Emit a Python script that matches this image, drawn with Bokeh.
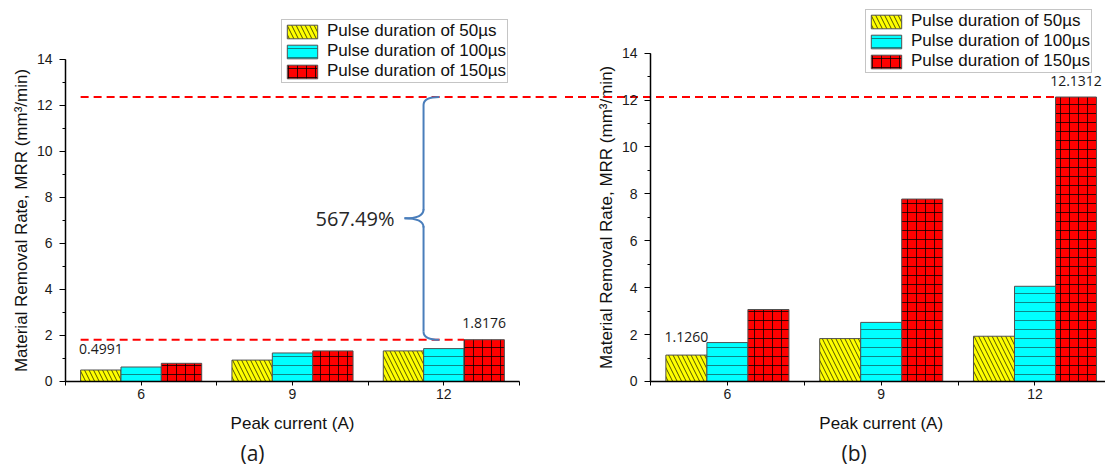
import math
from bokeh.plotting import figure
from bokeh.layouts import row
from bokeh.models import (ColumnDataSource, FixedTicker, SingleIntervalTicker,
                          LinearAxis, Range1d)
from bokeh.core.properties import value
from bokeh.embed import file_html
from bokeh.resources import INLINE

# ---------------- data ----------------
currents = ["6", "9", "12"]
series_names = ["Pulse duration of 50µs", "Pulse duration of 100µs", "Pulse duration of 150µs"]

mrr_a_50 = [0.4991, 0.93, 1.33]
mrr_a_100 = [0.63, 1.24, 1.43]
mrr_a_150 = [0.79, 1.33, 1.8176]

mrr_b_50 = [1.1260, 1.83, 1.93]
mrr_b_100 = [1.66, 2.52, 4.06]
mrr_b_150 = [3.07, 7.78, 12.1312]

percent_label = "567.49%"
top_line_a = 12.37   # level of the (b) maximum carried across into panel (a)

# ---------------- style ----------------
FILLS = ["#FFFF00", "#00FFFF", "#FF0000"]
HATCH = ["\\", "-", "+"]
HATCH_COL = ["#000000", "#124848", "#000000"]
HATCH_SCALE = [9, 9, 9]
HATCH_W = [0.8, 1.0, 0.9]
HATCH_A = [0.85, 0.65, 0.85]
BAR_W = 0.2667
OFFS = [-BAR_W, 0.0, BAR_W]
AX_FONT = "Liberation Sans"
NOTE_FONT = "Open Sans"
H = 466
Y_TITLE = "Material Removal Rate, MRR (mm³/min)"
X_TITLE = "Peak current (A)"


def make_panel(values, width, x_range, y_range, legend_loc, tag, tag_dx):
    p = figure(width=width, height=H, x_range=Range1d(*x_range), y_range=Range1d(*y_range),
               output_backend="svg", toolbar_location=None, x_axis_type=None, y_axis_type=None,
               min_border_left=0, min_border_right=0, min_border_top=0, min_border_bottom=0)
    p.grid.visible = False
    p.outline_line_color = None
    p.background_fill_color = "white"
    p.border_fill_color = "white"
    xs = [i + 1 for i in range(len(currents))]
    for k, (vals, name) in enumerate(zip(values, series_names)):
        src = ColumnDataSource(dict(x=[xv + OFFS[k] for xv in xs], top=vals))
        p.vbar(x="x", top="top", width=BAR_W, source=src,
               fill_color=FILLS[k], line_color="#505050", line_width=1,
               hatch_pattern=HATCH[k], hatch_color=HATCH_COL[k],
               hatch_scale=HATCH_SCALE[k], hatch_weight=HATCH_W[k],
               hatch_alpha=HATCH_A[k], legend_label=name)

    xa = LinearAxis(fixed_location=0)
    xa.ticker = FixedTicker(ticks=xs, minor_ticks=[0.5, 1.5, 2.5, 3.5])
    xa.major_label_overrides = {xv: c for xv, c in zip(xs, currents)}
    xa.bounds = (0.5, 3.5)
    ya = LinearAxis(fixed_location=0.5)
    ya.ticker = SingleIntervalTicker(interval=2, num_minor_ticks=2)
    ya.bounds = (0, 14)
    for ax in (xa, ya):
        ax.axis_line_color = "black"
        ax.axis_line_width = 1.5
        ax.major_tick_line_color = "black"
        ax.minor_tick_line_color = "black"
        ax.major_tick_in = 0
        ax.minor_tick_in = 0
        ax.major_label_text_font = AX_FONT
        ax.major_label_text_font_size = "14px"
        ax.major_label_text_color = "#1a1a1a"
    xa.major_tick_out = 4
    xa.minor_tick_out = 4
    xa.major_label_standoff = 4
    ya.major_tick_out = 6
    ya.minor_tick_out = 3
    ya.major_label_standoff = 7
    p.add_layout(xa, "below")
    p.add_layout(ya, "left")

    # axis titles and panel tag, placed relative to the axes
    p.text(x=[2.0], y=[0], text=[X_TITLE], y_offset=[42], text_align="center",
           text_baseline="middle", text_font=value(AX_FONT), text_font_size="17px",
           text_color="#111111")
    p.text(x=[0.5], y=[7.0], text=[Y_TITLE], x_offset=[-44], angle=math.pi / 2,
           text_align="center", text_baseline="middle", text_font=value(AX_FONT),
           text_font_size="17px", text_color="#111111")
    p.text(x=[2.0], y=[0], text=[tag], x_offset=[tag_dx], y_offset=[72], text_align="center",
           text_baseline="middle", text_font=value(NOTE_FONT), text_font_size="21px",
           text_color="#1a1a1a")

    lg = p.legend[0]
    lg.location = legend_loc
    lg.padding = 1
    lg.spacing = 0
    lg.glyph_width = 38
    lg.glyph_height = 17
    lg.label_height = 17
    lg.label_standoff = 6
    lg.label_text_font = AX_FONT
    lg.label_text_font_size = "17px"
    lg.label_text_color = "#111111"
    lg.border_line_color = "#8c8c8c"
    lg.border_line_width = 1
    lg.background_fill_color = "white"
    lg.background_fill_alpha = 1.0
    return p


xs = [1, 2, 3]

# ---------------- panel (a) ----------------
pa = make_panel([mrr_a_50, mrr_a_100, mrr_a_150], width=560,
                x_range=(0.0705, 3.771), y_range=(-3.696, 16.565),
                legend_loc=(281, 383), tag="(a)", tag_dx=-40)

note_a = ColumnDataSource(dict(
    x=[xs[0] + OFFS[0], xs[2] + OFFS[2]],
    y=[mrr_a_50[0], mrr_a_150[2]],
    t=[f"{mrr_a_50[0]:.4f}", f"{mrr_a_150[2]:.4f}"],
    dy=[-21, -17]))
pa.text(x="x", y="y", text="t", y_offset="dy", source=note_a, text_align="center",
        text_baseline="middle", text_font=value(NOTE_FONT), text_font_size="14px",
        text_color="#1a1a1a")

lo_level = mrr_a_150[2]
start_x = xs[0] + OFFS[0] - BAR_W / 2
pa.segment(x0=[start_x, start_x], y0=[lo_level, top_line_a],
           x1=[xs[2] + OFFS[2] - BAR_W / 2, 9.0], y1=[lo_level, top_line_a],
           line_color="#FF0000", line_width=2, line_dash="8 5")

# curly brace
XT, XV, XP = 2.97, 2.866, 2.74
mid = (top_line_a + lo_level) / 2
d_end, d_mid = 0.35, 0.4
brace_col = "#4A7EBB"
pa.quadratic(x0=[XT, XV, XV, XP, XV, XV],
             y0=[top_line_a, top_line_a - d_end, mid + d_mid, mid, mid - d_mid, lo_level + d_end],
             x1=[XV, XV, XP, XV, XV, XT],
             y1=[top_line_a - d_end, mid + d_mid, mid, mid - d_mid, lo_level + d_end, lo_level],
             cx=[XV, XV, XV, XV, XV, XV], cy=[top_line_a, mid, mid, mid, mid, lo_level],
             line_color=brace_col, line_width=2)
pa.text(x=[XP], y=[mid], text=[percent_label], x_offset=[-10], text_align="right",
        text_baseline="middle", text_font=value(NOTE_FONT), text_font_size="20px",
        text_color="#262626")

# ---------------- panel (b) ----------------
pb = make_panel([mrr_b_50, mrr_b_100, mrr_b_150], width=545,
                x_range=(-0.0852, 3.4584), y_range=(-3.625, 16.247),
                legend_loc=(305, 393), tag="(b)", tag_dx=-27)
note_b = ColumnDataSource(dict(
    x=[xs[0] + OFFS[0], xs[2] + OFFS[2]],
    y=[mrr_b_50[0], mrr_b_150[2]],
    t=[f"{mrr_b_50[0]:.4f}", f"{mrr_b_150[2]:.4f}"],
    dy=[-18, -16]))
pb.text(x="x", y="y", text="t", y_offset="dy", source=note_b, text_align="center",
        text_baseline="middle", text_font=value(NOTE_FONT), text_font_size="14px",
        text_color="#1a1a1a")
hi_level = mrr_b_150[2]
pb.segment(x0=[-2.0], y0=[hi_level], x1=[xs[2] + OFFS[2] - BAR_W / 2], y1=[hi_level],
           line_color="#FF0000", line_width=2, line_dash="8 5")

layout = row(pa, pb, spacing=0)
open("out.html", "w").write(file_html(layout, INLINE))
